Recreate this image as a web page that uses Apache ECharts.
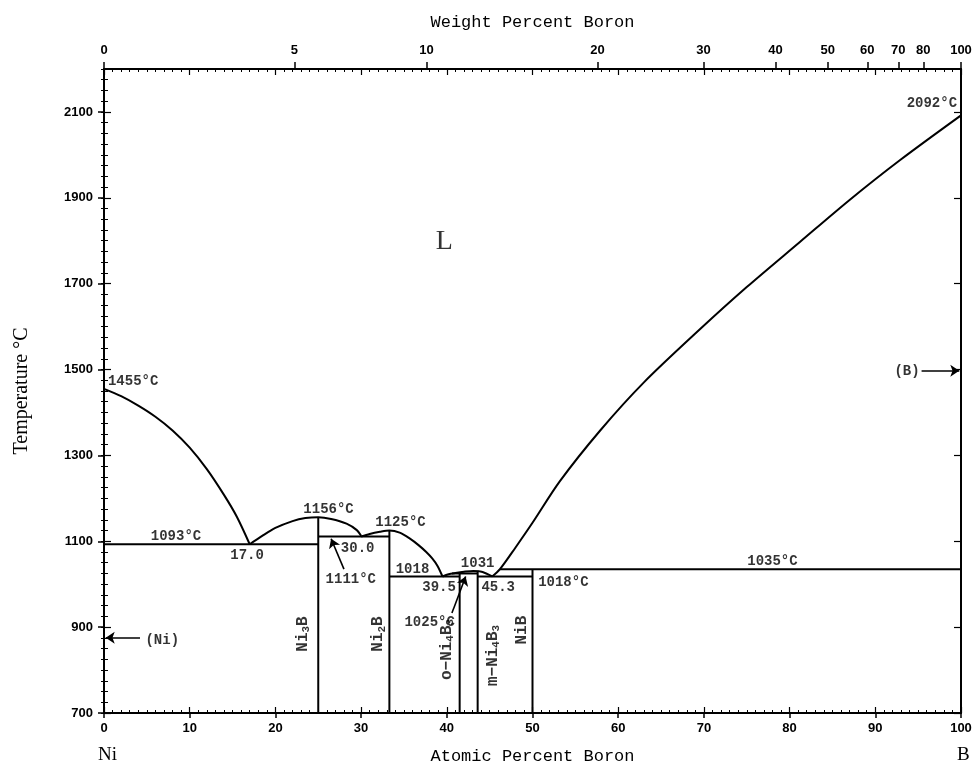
<!DOCTYPE html>
<html><head><meta charset="utf-8">
<script src="https://cdn.jsdelivr.net/npm/echarts@6/dist/echarts.min.js"></script>
<style>html,body{margin:0;padding:0;background:#fff}#c{width:975px;height:770px}</style>
</head><body><div id="c"></div>
<script>
// ---------------- data ----------------
const tempRange = [700, 2200];
const tempTicks = [700, 900, 1100, 1300, 1500, 1700, 1900, 2100];
const atTicks = [0, 10, 20, 30, 40, 50, 60, 70, 80, 90, 100];
const wtTicks = [0, 5, 10, 20, 30, 40, 50, 60, 70, 80, 100];
const massB = 10.81, massNi = 58.69;

const niLiquidus = [[0,1455],[2,1438],[4,1416],[6,1390],[8,1358],[10,1318],[12,1268],[14,1208],[15.5,1157],[17,1093]];
const ni3bLiquidus = [[17,1093],[18.5,1113],[20,1131],[22,1147],[23.5,1154],[25,1156],[26.5,1152],[28.3,1141],[29.5,1126],[30,1113]];
const ni2bLiquidus = [[30,1111],[31,1117],[32.2,1122],[33.3,1125],[34.5,1120],[35.7,1106],[36.7,1091],[37.6,1075],[38.3,1060],[38.9,1043],[39.5,1018]];
const ni4b3Liquidus = [[39.5,1018],[40.2,1023],[41.0,1026],[42.0,1029],[43.1,1031],[43.8,1030],[44.6,1025],[45.3,1018]];
const bLiquidus = [[45.3,1018],[46.2,1035],[48,1085],[50,1143],[53.2,1240],[57.9,1358],[63,1470],[69.5,1593],[75,1692],[81.2,1797],[87,1895],[92.9,1988],[100,2092]];

// horizontal invariant lines: [fromAt, toAt, temperature]
const isotherms = [[0,25,1093],[25,33.3,1111],[33.3,41.5,1018],[40.6,43.6,1025],[43.6,50,1018],[46.2,100,1035]];
// compound lines: [at%, top temperature]
const compounds = [[25,1156],[33.3,1125],[41.5,1025],[43.6,1031],[50,1035]];

// text labels: [at%, temperature, text]
const annotations = [
  [3.4,1472,'1455°C'],[8.4,1112,'1093°C'],[16.7,1066,'17.0'],[26.2,1175,'1156°C'],
  [29.6,1084,'30.0'],[28.8,1010,'1111°C'],[34.6,1143,'1125°C'],[36.0,1035,'1018'],
  [39.1,993,'39.5'],[43.6,1049,'1031'],[46.0,993,'45.3'],[53.6,1005,'1018°C'],
  [38.0,910,'1025°C'],[78.0,1052,'1035°C'],[96.6,2120,'2092°C'],
  [6.8,870,'(Ni)'],[93.7,1495,'(B)']
];
const phaseLabels = [
  [23.2,884,'Ni{s|3}B'],[32.0,884,'Ni{s|2}B'],[40.0,848,'o−Ni{s|4}B{s|3}'],
  [45.4,834,'m−Ni{s|4}B{s|3}'],[48.8,893,'NiB']
];
const liquidLabel = [39.7,1797,'L'];
// arrows: [fromAt, fromT, toAt, toT]
const arrows = [[4.2,875,0.2,875],[95.4,1497,99.8,1497],[28.0,1035,26.5,1106],[40.6,933,42.2,1018]];

// ---------------- chart ----------------
const wtToAt = w => (w/massB)/((w/massB)+((100-w)/massNi))*100;
const atToWt = a => a*massB/(a*massB+(100-a)*massNi)*100;

const black = '#000';
const monoFont = 'Liberation Mono';
const tickFont = {fontFamily:'Liberation Sans', fontWeight:'bold', fontSize:13, color:black};
const G = {left:104, top:69, width:857, height:644};

function lineSeries(data, smooth){
  return {type:'line', xAxisIndex:0, yAxisIndex:0, data:data, showSymbol:false, symbol:'none',
    smooth:smooth, lineStyle:{color:black, width:2}, silent:true, animation:false, z:3};
}
const series = [];
[niLiquidus, ni3bLiquidus, ni2bLiquidus, ni4b3Liquidus, bLiquidus].forEach(d=>series.push(lineSeries(d, 0.3)));
isotherms.forEach(r=>series.push(lineSeries([[r[0],r[2]],[r[1],r[2]]], false)));
compounds.forEach(c=>series.push(lineSeries([[c[0],tempRange[0]],[c[0],c[1]]], false)));

series.push({type:'lines', coordinateSystem:'cartesian2d', xAxisIndex:0, yAxisIndex:0,
  data: arrows.map(a=>({coords:[[a[0],a[1]],[a[2],a[3]]]})),
  symbol:['none','arrow'], symbolSize:[0,9], lineStyle:{color:black, width:1.6, opacity:1},
  silent:true, animation:false, z:4});

const richSub = {
  n:{fontFamily:monoFont, fontWeight:'bold', fontSize:16, color:black, lineHeight:18},
  s:{fontFamily:monoFont, fontWeight:'bold', fontSize:11, color:black, lineHeight:8, verticalAlign:'bottom'}
};
series.push({type:'scatter', xAxisIndex:0, yAxisIndex:0, symbolSize:0, silent:true, animation:false, z:5,
  data: annotations.map(a=>({value:[a[0],a[1]], label:{show:true, position:'inside', formatter:a[2],
    fontFamily:monoFont, fontWeight:'bold', fontSize:14, color:black}}))
    .concat(phaseLabels.map(p=>({value:[p[0],p[1]], label:{show:true, position:'inside', rotate:90,
      formatter:p[2].replace(/(^|\})([^{]+?)(?=\{|$)/g, (m,a,b)=>a+'{n|'+b+'}'),
      rich:richSub}})))
    .concat([{value:[liquidLabel[0],liquidLabel[1]], label:{show:true, position:'inside', formatter:liquidLabel[2],
      fontFamily:'Liberation Serif', fontSize:28, color:black}}])
});

const hidden = {show:false};
const plain = v => String(Math.round(v));
const option = {
  animation:false,
  backgroundColor:'#fff',
  grid:[Object.assign({}, G), Object.assign({}, G), Object.assign({}, G)],
  xAxis:[
    {gridIndex:0, type:'value', position:'bottom', min:0, max:100, interval:10,
     axisLine:{show:true, onZero:false, lineStyle:{color:black, width:2}},
     axisTick:{show:true, length:5, lineStyle:{color:black, width:1.5}},
     axisLabel:Object.assign({margin:9, customValues:atTicks, formatter:plain}, tickFont),
     splitLine:hidden,
     name:'Atomic Percent Boron', nameLocation:'middle', nameGap:35,
     nameTextStyle:{fontFamily:monoFont, fontSize:17, color:black}},
    {gridIndex:0, type:'value', position:'top', min:0, max:100,
     axisLine:{show:true, onZero:false, lineStyle:{color:black, width:2}},
     axisTick:{show:true, length:7, customValues:wtTicks.map(wtToAt), lineStyle:{color:black, width:1.5}},
     axisLabel:Object.assign({margin:12, customValues:wtTicks.map(wtToAt),
       formatter:v=>String(Math.round(atToWt(v)))}, tickFont),
     splitLine:hidden,
     name:'Weight Percent Boron', nameLocation:'middle', nameGap:38,
     nameTextStyle:{fontFamily:monoFont, fontSize:17, color:black}},
    {gridIndex:1, type:'value', position:'bottom', min:0, max:100, interval:10,
     axisLine:hidden, axisLabel:hidden, splitLine:hidden,
     axisTick:{show:true, inside:true, length:6, lineStyle:{color:black, width:1.2}},
     minorTick:{show:true, splitNumber:10, length:3, lineStyle:{color:black, width:1}}},
    {gridIndex:1, type:'value', position:'top', min:0, max:100, interval:10,
     axisLine:hidden, axisLabel:hidden, splitLine:hidden,
     axisTick:{show:true, inside:true, length:6, lineStyle:{color:black, width:1.2}},
     minorTick:{show:true, splitNumber:10, length:3, lineStyle:{color:black, width:1}}},
    {gridIndex:2, type:'value', min:0, max:100, show:false}
  ],
  yAxis:[
    {gridIndex:0, type:'value', position:'left', min:tempRange[0], max:tempRange[1],
     axisLine:{show:true, onZero:false, lineStyle:{color:black, width:2}},
     axisTick:{show:true, length:6, customValues:tempTicks, lineStyle:{color:black, width:1.5}},
     axisLabel:Object.assign({margin:11, customValues:tempTicks, formatter:plain}, tickFont),
     splitLine:hidden,
     name:'Temperature °C', nameLocation:'middle', nameGap:72, nameRotate:90,
     nameTextStyle:{fontFamily:'Liberation Serif', fontSize:20, color:black}},
    {gridIndex:0, type:'value', position:'right', min:tempRange[0], max:tempRange[1],
     axisLine:{show:true, onZero:false, lineStyle:{color:black, width:2}},
     axisTick:{show:true, inside:true, length:7, customValues:tempTicks, lineStyle:{color:black, width:1.2}},
     axisLabel:hidden, splitLine:hidden},
    {gridIndex:1, type:'value', position:'left', min:tempRange[0], max:tempRange[1], interval:25,
     axisLine:hidden, axisLabel:hidden, splitLine:hidden,
     axisTick:{show:true, inside:false, length:3, lineStyle:{color:black, width:1}}},
    {gridIndex:1, type:'value', position:'right', min:tempRange[0], max:tempRange[1], interval:25,
     axisLine:hidden, axisLabel:hidden, splitLine:hidden,
     axisTick:{show:true, inside:false, length:4, lineStyle:{color:black, width:1}}},
    {gridIndex:2, type:'value', position:'left', min:tempRange[0], max:tempRange[1],
     axisLine:hidden, axisLabel:hidden, splitLine:hidden,
     axisTick:{show:true, inside:true, length:7, customValues:tempTicks, lineStyle:{color:black, width:1.2}}}
  ],
  graphic:[
    {type:'text', left:98, top:746, style:{text:'Ni', fontFamily:'Liberation Serif', fontSize:19, fill:black}},
    {type:'text', left:957, top:746, style:{text:'B', fontFamily:'Liberation Serif', fontSize:19, fill:black}}
  ],
  series:series
};
const chart = echarts.init(document.getElementById('c'), null, {renderer:'canvas'});
chart.setOption(option);
</script></body></html>
